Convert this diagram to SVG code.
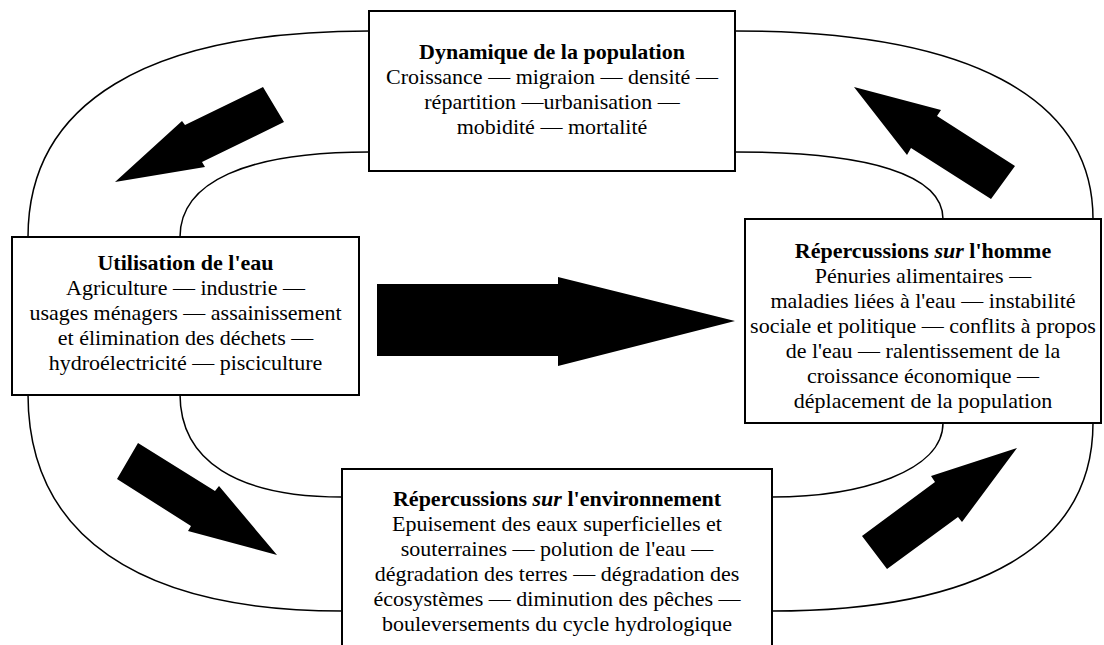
<svg xmlns="http://www.w3.org/2000/svg" width="1104" height="645" viewBox="0 0 1104 645">
<style>
.box{fill:#fff;stroke:#000;stroke-width:2}
.curve{fill:none;stroke:#000;stroke-width:1.5}
.blk{fill:#000;stroke:none}
text{font-family:"Liberation Serif","Times New Roman",serif;font-size:22px;fill:#000;text-anchor:middle}
.t{font-weight:bold}
.i{font-style:italic}
</style>
<rect width="1104" height="645" fill="#fff"/>
<g id="connectors">
<path class="curve" d="M369,31 C147,31 28,103 28,237"/>
<path class="curve" d="M369,152 C246,152 180,182 180,237"/>
<path class="curve" d="M735,31 C968,31 1093,97 1093,219"/>
<path class="curve" d="M735,152 C870,152 943,175 943,219"/>
<path class="curve" d="M28,394 C28,535 138,611 342,611"/>
<path class="curve" d="M180,394 C180,461 237,497 342,497"/>
<path class="curve" d="M1093,423 C1093,545 981,611 772,611"/>
<path class="curve" d="M943,423 C943,471 861,497 772,497"/>
<polygon class="blk" points="263,87 284,122 202,162 205,167 115,182 182,121 185,125"/>
<polygon class="blk" points="138,443 215,491 219,486 277,555 188,531 191,526 117,479"/>
<polygon class="blk" points="854,87 941,110 937,116 1015,166 991,199 911,148 907,155"/>
<polygon class="blk" points="862,536 935,482 931,476 1017,448 962,522 958,517 887,569"/>
<polygon class="blk" points="377,284 558,284 558,277 735,321 558,366 558,356 377,356"/>
</g>
<g id="node-population">
<rect class="box" x="369" y="11" width="366" height="160"/>
<text x="552" y="59" class="t">Dynamique de la population</text>
<text x="552" y="84">Croissance — migraion — densité —</text>
<text x="552" y="109">répartition —urbanisation —</text>
<text x="552" y="134">mobidité — mortalité</text>
</g>
<g id="node-eau">
<rect class="box" x="12" y="237" width="347" height="158"/>
<text x="185.5" y="270" class="t">Utilisation de l'eau</text>
<text x="185.5" y="295">Agriculture — industrie —</text>
<text x="185.5" y="320">usages ménagers — assainissement</text>
<text x="185.5" y="345">et élimination des déchets —</text>
<text x="185.5" y="370">hydroélectricité — pisciculture</text>
</g>
<g id="node-homme">
<rect class="box" x="745" y="219" width="356" height="204"/>
<text x="923" y="258" class="t">Répercussions <tspan class="i">sur</tspan> l'homme</text>
<text x="923" y="283">Pénuries alimentaires —</text>
<text x="923" y="308">maladies liées à l'eau — instabilité</text>
<text x="923" y="333">sociale et politique — conflits à propos</text>
<text x="923" y="358">de l'eau — ralentissement de la</text>
<text x="923" y="383">croissance économique —</text>
<text x="923" y="408">déplacement de la population</text>
</g>
<g id="node-environnement">
<rect class="box" x="342" y="469" width="430" height="185"/>
<text x="557" y="506" class="t">Répercussions <tspan class="i">sur</tspan> l'environnement</text>
<text x="557" y="531">Epuisement des eaux superficielles et</text>
<text x="557" y="556">souterraines — polution de l'eau —</text>
<text x="557" y="581">dégradation des terres — dégradation des</text>
<text x="557" y="606">écosystèmes — diminution des pêches —</text>
<text x="557" y="631">bouleversements du cycle hydrologique</text>
</g>
</svg>
